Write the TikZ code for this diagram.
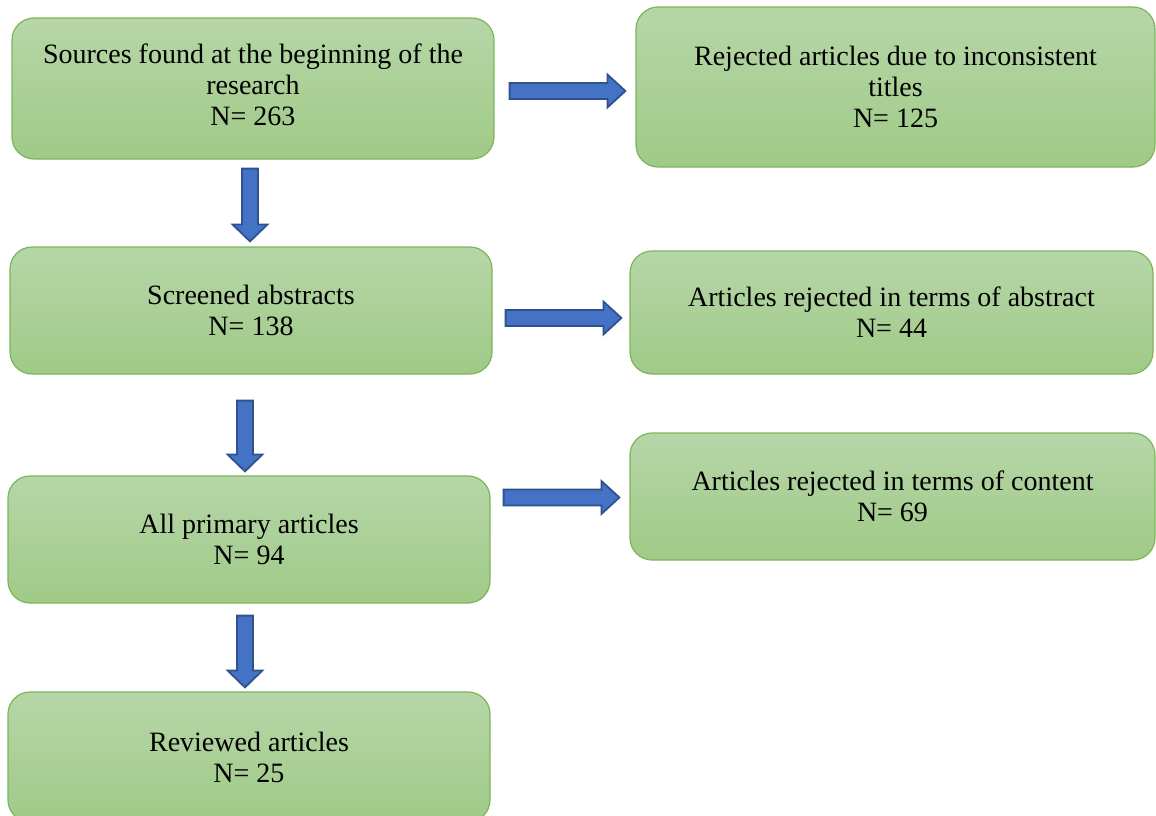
\documentclass[tikz,border=0pt]{standalone}
\usepackage{fontspec}
\setmainfont{Liberation Serif}
\usetikzlibrary{calc}
\definecolor{boxtop}{HTML}{B6D6A8}
\definecolor{boxbot}{HTML}{A0CA87}
\definecolor{boxline}{HTML}{7CB55A}
\definecolor{arrfill}{HTML}{4472C4}
\definecolor{arrline}{HTML}{2F528F}
\tikzset{
  flowbox/.style={rectangle, rounded corners=22pt, top color=boxtop, bottom color=boxbot,
    draw=boxline, line width=1.2pt, align=center, inner sep=0pt,
    font=\fontsize{28}{31}\selectfont, text=black},
  blockarr/.style={fill=arrfill, draw=arrline, line width=1.8pt, line join=miter}
}
\newcommand\harrow[2]{\draw[blockarr] let \p1=(#1), \p2=(#2) in
  (\x1,\y2+8pt) -- (\x2-18pt,\y2+8pt) -- (\x2-18pt,\y2+16.5pt) -- (\x2,\y2) --
  (\x2-18pt,\y2-16.5pt) -- (\x2-18pt,\y2-8pt) -- (\x1,\y2-8pt) -- cycle;}
\newcommand\varrow[2]{\draw[blockarr] let \p1=(#1), \p2=(#2) in
  (\x1-8pt,\y1) -- (\x1-8pt,\y2+17pt) -- (\x1-17.5pt,\y2+17pt) -- (\x1,\y2) --
  (\x1+17.5pt,\y2+17pt) -- (\x1+8pt,\y2+17pt) -- (\x1+8pt,\y1) -- cycle;}
\begin{document}
\begin{tikzpicture}[x=1pt,y=-1pt]
\useasboundingbox (0,0) rectangle (1156,816);
\node[flowbox, minimum width=482pt, minimum height=141pt] (s1) at (253,88.5)
  {Sources found at the beginning of the\\research\\N= 263\\[-23pt]};
\node[flowbox, minimum width=519pt, minimum height=160pt] (r1) at (895.5,87)
  {Rejected articles due to inconsistent\\titles\\N= 125};
\node[flowbox, minimum width=482pt, minimum height=127pt] (s2) at (251,310.5)
  {Screened abstracts\\N= 138};
\node[flowbox, minimum width=523pt, minimum height=123pt] (r2) at (891.5,312.5)
  {Articles rejected in terms of abstract\\N= 44};
\node[flowbox, minimum width=482pt, minimum height=127pt] (s3) at (249,539.5)
  {All primary articles\\N= 94};
\node[flowbox, minimum width=525pt, minimum height=127pt] (r3) at (892.5,496.5)
  {Articles rejected in terms of content\\N= 69};
\node[flowbox, minimum width=482pt, minimum height=130pt] (s4) at (249,757)
  {Reviewed articles\\N= 25};
% horizontal arrows
\coordinate (h1a) at ($(s1.east)+(15,2.5)$);
\coordinate (h1b) at ($(r1.west)+(-10,4)$);
\harrow{h1a}{h1b}
\coordinate (h2a) at ($(s2.east)+(13,7.5)$);
\coordinate (h2b) at ($(r2.west)+(-8,5.5)$);
\harrow{h2a}{h2b}
\coordinate (h3a) at ($(s3.east)+(13,-42)$);
\coordinate (h3b) at ($(r3.west)+(-10,1)$);
\harrow{h3a}{h3b}
% vertical arrows
\coordinate (v1a) at ($(s1.south)+(-3,9)$);
\coordinate (v1b) at ($(s2.north)+(-1,-5)$);
\varrow{v1a}{v1b}
\coordinate (v2a) at ($(s2.south)+(-6,26)$);
\coordinate (v2b) at ($(s3.north)+(-4,-4)$);
\varrow{v2a}{v2b}
\coordinate (v3a) at ($(s3.south)+(-4,12)$);
\coordinate (v3b) at ($(s4.north)+(-4,-4)$);
\varrow{v3a}{v3b}
\end{tikzpicture}
\end{document}
